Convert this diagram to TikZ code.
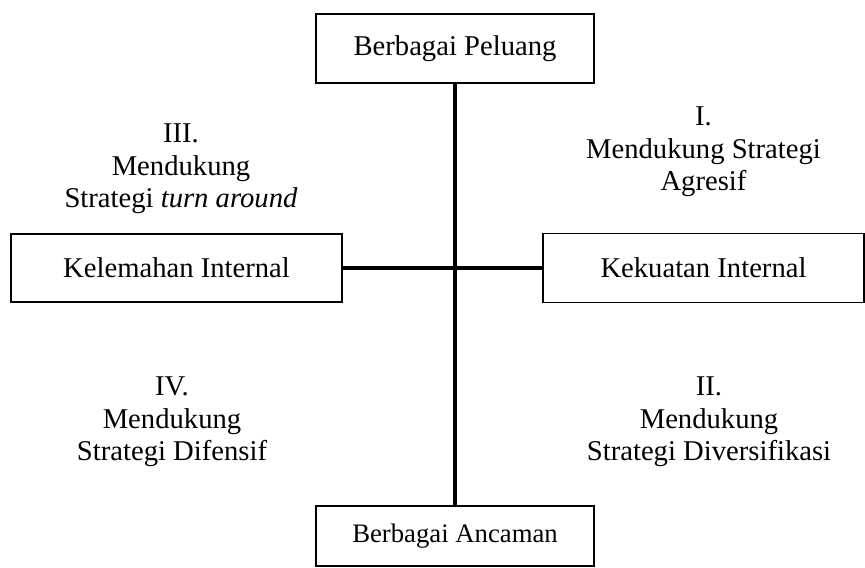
\documentclass[tikz,border=0pt]{standalone}
\usepackage{fontspec}
\setmainfont{Liberation Serif}
\tikzset{
    every picture/.style={
        line join=miter,
        transform shape=false
    },
    factor/.style={rectangle, draw=black, line width=1pt, fill=white, inner sep=2pt, align=center, font=\fontsize{16.3}{18.2}\selectfont},
    quadrant/.style={align=center, inner sep=0pt, font=\fontsize{16.3}{18.4}\selectfont},
    axisline/.style={draw=black, line width=2pt}
}

\begin{document}
\begin{tikzpicture}[
    x=1cm, y=1cm
]
    \useasboundingbox (0,0) rectangle (17.3,-11.34);

    % Factors
    \node[factor, minimum width=5.56cm, minimum height=1.38cm] (opp) at (9.10,-0.97) {Berbagai Peluang};
    \node[factor, minimum width=6.62cm, minimum height=1.36cm] (weak) at (3.53,-5.36) {Kelemahan Internal};
    \node[factor, minimum width=6.42cm, minimum height=1.38cm] (strong) at (14.07,-5.36) {Kekuatan Internal};
    \node[factor, minimum width=5.56cm, minimum height=1.2cm, font=\fontsize{15.2}{18}\selectfont] (threat) at (9.10,-10.72) {Berbagai Ancaman};

    % Axes
    \draw[axisline] (opp) -- (threat);
    \draw[axisline] (weak) -- (strong);

    % Quadrants
    \node[quadrant] (q3) at (3.62,-3.38) {III.\\Mendukung\\Strategi \textit{turn around}};
    \node[quadrant] (q1) at (14.07,-3.04) {I.\\Mendukung Strategi\\Agresif};
    \node[quadrant] (q4) at (3.44,-8.44) {IV.\\Mendukung\\Strategi Difensif};
    \node[quadrant] (q2) at (14.18,-8.44) {II.\\Mendukung\\Strategi Diversifikasi};

\end{tikzpicture}
\end{document}
